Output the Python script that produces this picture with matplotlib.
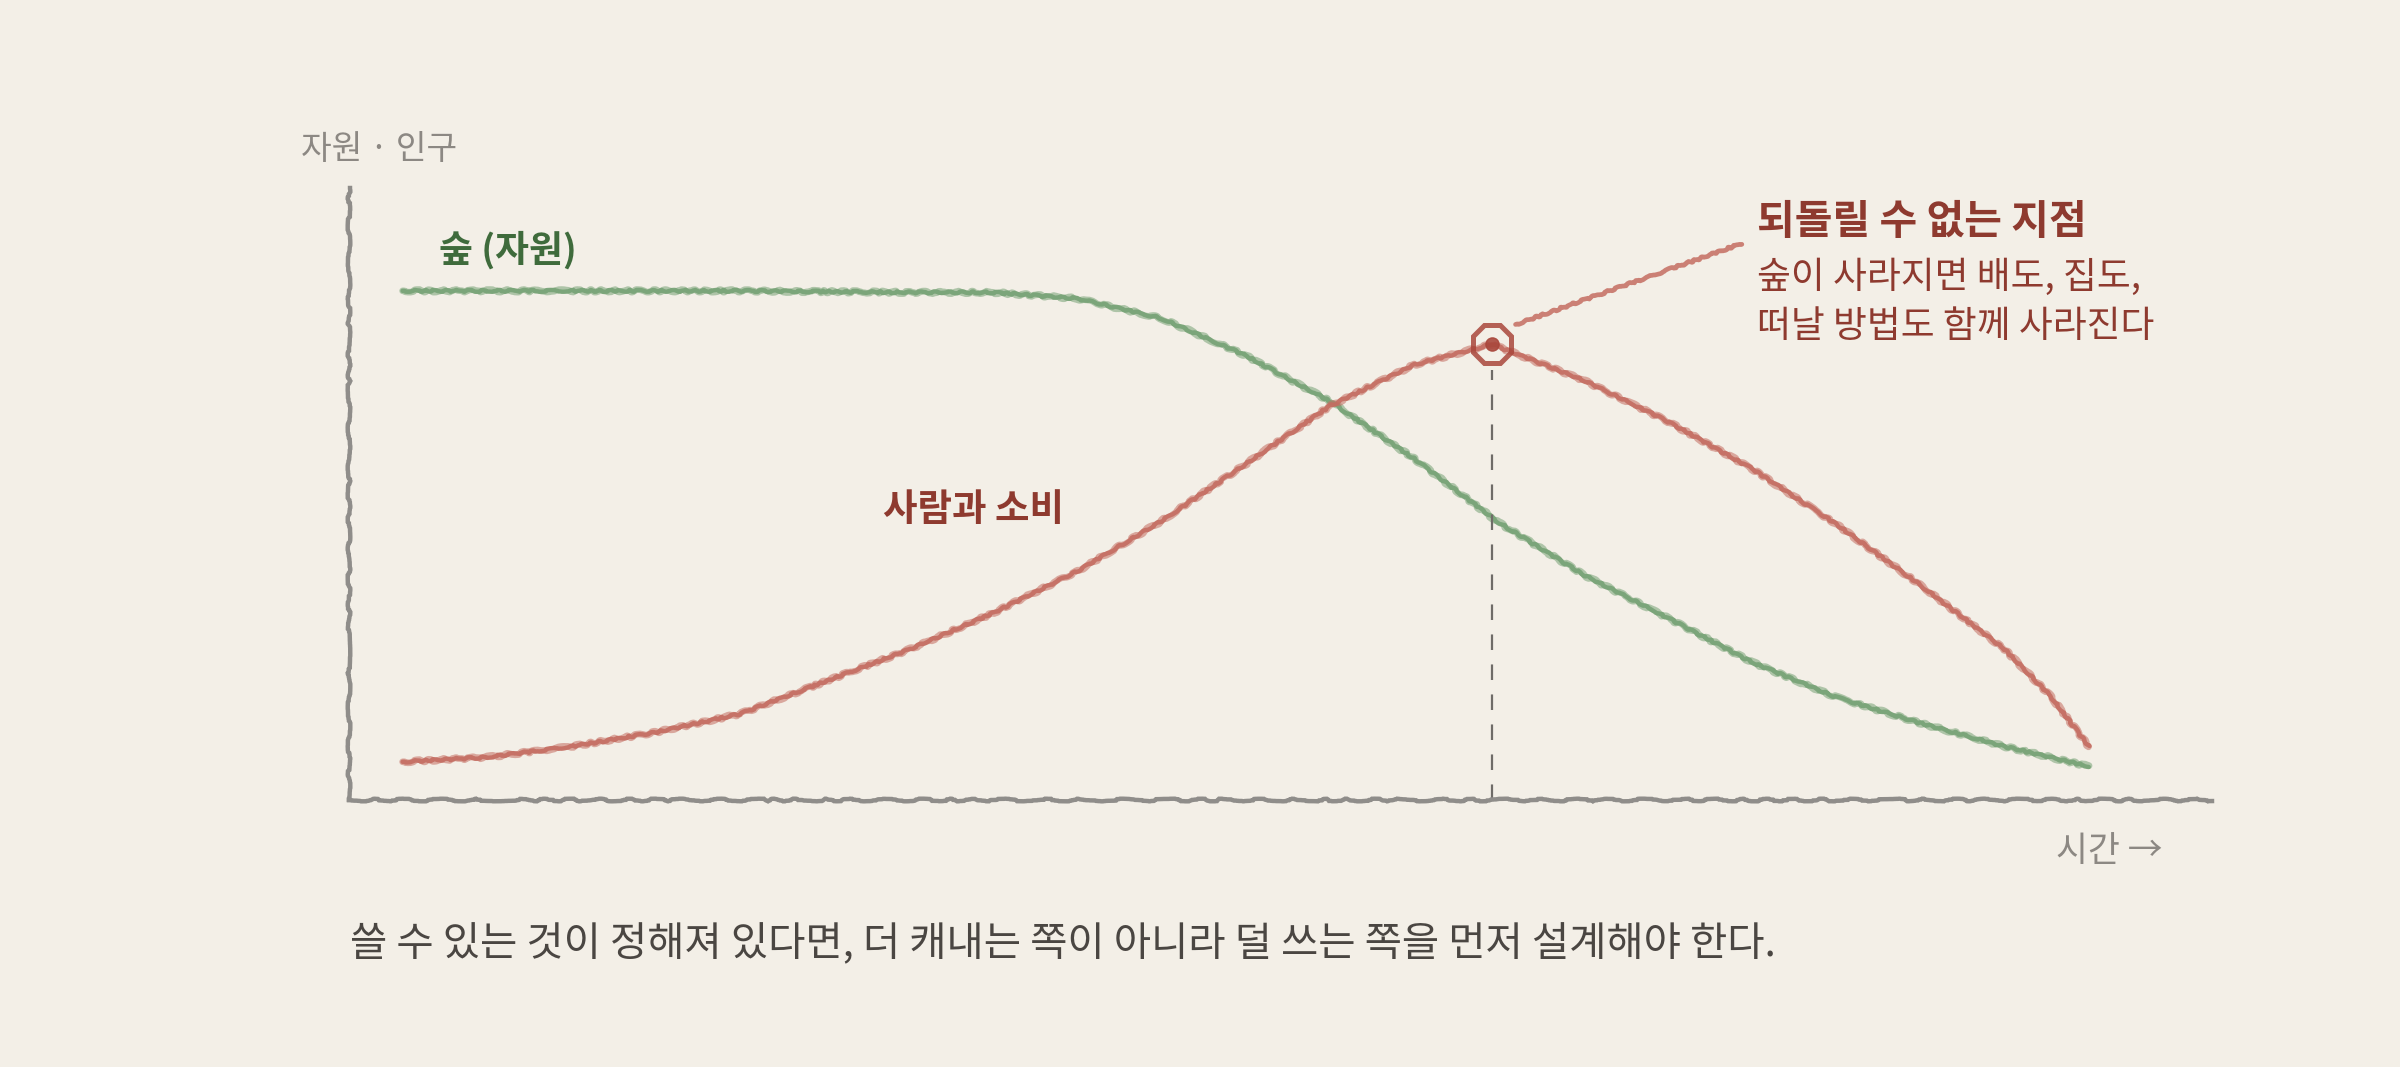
import numpy as np
import matplotlib.pyplot as plt

# time runs 0..100 across the drawn curves, values scaled so the forest starts at 100
t_forest = [0, 10, 20, 30, 35, 40, 45, 50, 55, 60, 65, 70, 75, 80, 85, 90, 95, 100]
v_forest = [100, 100, 100, 99.7, 99.7, 98.5, 94.6, 87.3, 78.3, 67.0, 54.5, 44.3, 35.8, 27.1, 20.2, 15.1, 10.5, 6.6]

t_people = [0, 5, 10, 15, 20, 25, 30, 35, 40, 45, 50, 55, 60, 64.6, 70, 75, 80, 85, 90, 95, 97.7, 100]
v_people = [7.5, 8.4, 10.5, 13.3, 16.9, 23.2, 29.5, 36.7, 44.9, 54.8, 66.0, 77.4, 85.5, 89.5,
            82.5, 74.4, 65.1, 54.2, 42.2, 29.6, 20.5, 10.5]

peak_t = 64.6
peak_v = 89.5
callout_t = [66.0, 79.4]
callout_v = [93.4, 109.3]

bg = "#f3efe7"
green = "#76a275"
green_dark = "#3f6b3c"
red = "#c46d61"
red_dark = "#8e3a2f"
grey = "#8c8883"

plt.rcParams['font.family'] = ['Noto Sans CJK KR', 'DejaVu Sans']

fig = plt.figure(figsize=(24, 10.67), dpi=100, facecolor=bg)
ax = fig.add_axes([349 / 2400, 1 - 800 / 1067, (2212 - 349) / 2400, (800 - 188) / 1067])
ax.set_facecolor(bg)
ax.set_xlim(-3.18, 107.3)
ax.set_ylim(0, 120.2)
ax.set_xticks([])
ax.set_yticks([])
for side in ['top', 'right']:
    ax.spines[side].set_visible(False)
for side in ['left', 'bottom']:
    sp = ax.spines[side]
    sp.set_color("#8f8d8a")
    sp.set_linewidth(3.2)
    sp.set_sketch_params(1.3, 130, 25)

# pencil-ish lines: a soft wide stroke plus a thinner core
for tt, vv, c in [(t_forest, v_forest, green), (t_people, v_people, red)]:
    l1, = ax.plot(tt, vv, color=c, lw=4.8, alpha=0.55, solid_capstyle='round', clip_on=False)
    l1.set_sketch_params(1.3, 25, 6)
    l2, = ax.plot(tt, vv, color=c, lw=3.2, alpha=0.9, solid_capstyle='round', clip_on=False)
    l2.set_sketch_params(0.9, 20, 6)

# point of no return
dl, = ax.plot([peak_t, peak_t], [0, peak_v - 5], color="#6f6c68", lw=1.6,
              dashes=(7, 6.5))
ax.plot([peak_t], [peak_v], marker='8', ms=30, mfc='none', mec="#a9473c",
        mew=3.6, alpha=0.85)
ax.plot([peak_t], [peak_v], marker='o', ms=9.5, color="#a9473c", alpha=0.9)
cl, = ax.plot(callout_t, callout_v, color=red, lw=3.4, alpha=0.85, solid_capstyle='round')
cl.set_sketch_params(1.0, 18, 6)

def px(x, y):
    return x / 2400, 1 - y / 1067

fig.text(*px(301, 149), "자원 · 인구", fontsize=24, color=grey, va='center', ha='left')
fig.text(*px(439, 250), "숲 (자원)", fontsize=26.5, color=green_dark, fontweight='bold',
         va='center', ha='left')
fig.text(*px(883, 510), "사람과 소비", fontsize=27, color=red_dark, fontweight='bold',
         va='center', ha='left')
fig.text(*px(1757, 222), "되돌릴 수 없는 지점", fontsize=29.5, color=red_dark, fontweight='bold',
         va='center', ha='left')
fig.text(*px(1757, 277), "숲이 사라지면 배도, 집도,", fontsize=26.5, color=red_dark,
         va='center', ha='left')
fig.text(*px(1757, 326), "떠날 방법도 함께 사라진다", fontsize=26.5, color=red_dark,
         va='center', ha='left')
fig.text(*px(2163, 851), "시간 →", fontsize=25, color=grey, va='center', ha='right')
fig.text(*px(350, 944), "쓸 수 있는 것이 정해져 있다면, 더 캐내는 쪽이 아니라 덜 쓰는 쪽을 먼저 설계해야 한다.",
         fontsize=29.2, color="#4a4642", va='center', ha='left')

fig.savefig("out.png", dpi=100, facecolor=bg)
